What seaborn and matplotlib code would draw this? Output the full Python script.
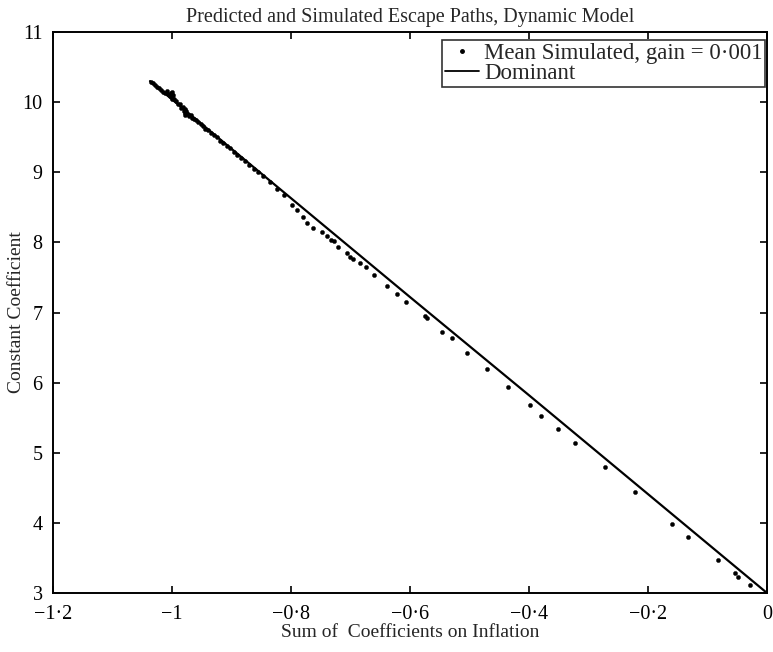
import matplotlib
matplotlib.use("Agg")
import matplotlib.pyplot as plt
from matplotlib.lines import Line2D
import seaborn as sns
import pandas as pd

# Dominant (predicted) escape path
dominant_x = [-1.037, -0.8, -0.6, -0.4, -0.2, 0.0]
dominant_y = [10.30, 8.63, 7.22, 5.82, 4.41, 3.00]

# Mean simulated escape path, gain = 0.001
sim_x = [-1.035, -1.032, -1.028, -1.025, -1.022, -1.018, -1.015, -1.012, -1.009, -1.006,
         -1.004, -1.002, -1.000, -1.000, -1.000, -0.998, -0.996, -0.993, -0.990, -0.987,
         -0.985, -0.982, -0.980, -0.978, -0.978, -0.978, -0.976, -0.974, -0.971, -0.968,
         -0.966, -0.963, -0.960, -0.956, -0.952, -0.948, -0.944, -0.940, -0.935, -0.930,
         -0.925, -0.920, -0.914, -0.908, -0.902, -0.896, -0.890, -0.884, -0.877, -0.870,
         -0.862, -0.855, -0.847, -0.835, -0.824, -0.812, -0.799, -0.790,
         -0.779, -0.773, -0.763, -0.748, -0.740, -0.733, -0.727, -0.721, -0.706, -0.701,
         -0.695, -0.684, -0.674, -0.661, -0.638, -0.622, -0.606, -0.575, -0.572, -0.546,
         -0.529, -0.504, -0.470, -0.435, -0.398, -0.379, -0.352, -0.323, -0.272, -0.222,
         -0.159, -0.133, -0.082, -0.053, -0.048, -0.029]
sim_y = [10.29, 10.27, 10.25, 10.22, 10.20, 10.18, 10.15, 10.13, 10.16, 10.12,
         10.09, 10.13, 10.07, 10.04, 10.14, 10.10, 10.04, 10.01, 9.98, 9.97,
         9.92, 9.93, 9.88, 9.84, 9.81, 9.90, 9.88, 9.83, 9.80, 9.82,
         9.77, 9.76, 9.74, 9.71, 9.69, 9.66, 9.62, 9.60, 9.56, 9.53,
         9.50, 9.45, 9.42, 9.38, 9.34, 9.29, 9.25, 9.21, 9.16, 9.11,
         9.05, 9.00, 8.94, 8.86, 8.76, 8.67, 8.53, 8.46,
         8.357, 8.271, 8.200, 8.151, 8.090, 8.033, 8.019, 7.937, 7.852, 7.795,
         7.762, 7.700, 7.643, 7.534, 7.381, 7.262, 7.148, 6.949, 6.925, 6.725,
         6.630, 6.425, 6.188, 5.936, 5.675, 5.526, 5.341, 5.133, 4.790, 4.434,
         3.986, 3.800, 3.464, 3.282, 3.230, 3.111]

x_ticks = [-1.2, -1.0, -0.8, -0.6, -0.4, -0.2, 0.0]
x_tick_labels = ["\u22121\u00b72", "\u22121", "\u22120\u00b78", "\u22120\u00b76",
                 "\u22120\u00b74", "\u22120\u00b72", "0"]
y_ticks = [3, 4, 5, 6, 7, 8, 9, 10, 11]
y_tick_labels = ["3", "4", "5", "6", "7", "8", "9", "10", "11"]

title = "Predicted and Simulated Escape Paths, Dynamic Model"
x_label = "Sum of  Coefficients on Inflation"
y_label = "Constant Coefficient"
sim_label = "Mean Simulated, gain = 0\u00b7001"
dom_label = "Dominant"

sns.set_style("ticks")
plt.rcParams["font.family"] = ["Liberation Serif", "DejaVu Serif"]

fig = plt.figure(figsize=(7.73, 6.52), dpi=100)
ax = fig.add_axes([53 / 773, 1 - 593 / 652, (767 - 53) / 773, (593 - 32) / 652])

dom_df = pd.DataFrame({"x": dominant_x, "y": dominant_y})
sim_df = pd.DataFrame({"x": sim_x, "y": sim_y})

sns.lineplot(data=dom_df, x="x", y="y", ax=ax, color="black", linewidth=1.6,
             sort=False, estimator=None)
sns.scatterplot(data=sim_df, x="x", y="y", ax=ax, color="black", s=9,
                edgecolor="black", linewidth=0.3)

ax.set_xlim(-1.2, 0.0)
ax.set_ylim(3, 11)
ax.set_xticks(x_ticks)
ax.set_xticklabels(x_tick_labels)
ax.set_yticks(y_ticks)
ax.set_yticklabels(y_tick_labels)
ax.tick_params(direction="in", length=5, width=1.2, top=True, right=True,
               labelsize=14.5, colors="black")
ax.tick_params(axis="x", pad=8.5)
ax.tick_params(axis="y", pad=7.5)

for sp in ax.spines.values():
    sp.set_visible(True)
    sp.set_linewidth(1.4)
    sp.set_color("black")

ax.set_title(title, fontsize=14.5, pad=7)
ax.set_xlabel(x_label, fontsize=14, labelpad=0)
ax.set_ylabel(y_label, fontsize=14, labelpad=-2)

handles = [
    Line2D([], [], marker="o", linestyle="none", color="black", markersize=2.5),
    Line2D([], [], color="black", linewidth=1.3),
]
leg = ax.legend(handles, [sim_label, dom_label], loc="upper right",
                bbox_to_anchor=(0.9975, 0.985), fontsize=16.5, frameon=True,
                fancybox=False, edgecolor="black", handlelength=1.5,
                handletextpad=0.2, borderpad=0.12, labelspacing=-0.05,
                borderaxespad=0.0)
leg.get_frame().set_linewidth(1.2)

fig.savefig("out.png", dpi=100)
